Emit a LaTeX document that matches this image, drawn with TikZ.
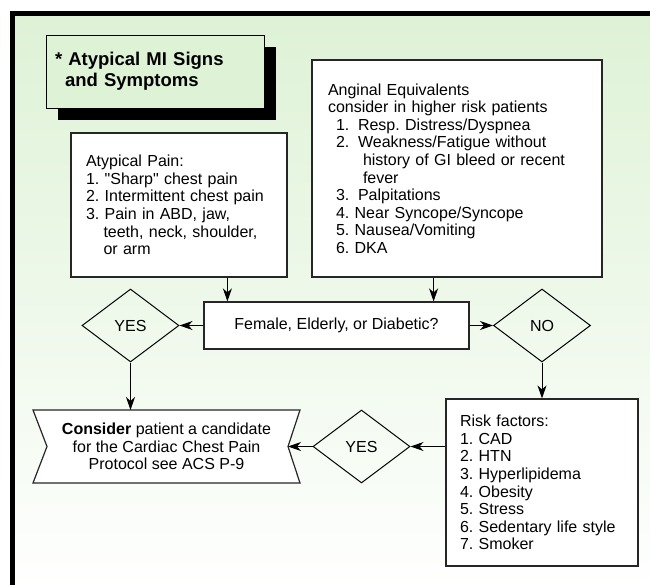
\documentclass[tikz,border=0pt]{standalone}
\usepackage{fontspec}
\setmainfont{Liberation Sans}[Ligatures=TeXOff]
\usepackage{tikz}
\usetikzlibrary{arrows.meta,shapes.geometric,shadows}
\usepackage{xcolor}
\definecolor{bggreen}{RGB}{222,242,214}
\frenchspacing

\begin{document}
\begin{tikzpicture}[x=1pt,y=-1pt,
  box/.style={draw=black!85,line width=1.2pt,fill=white,align=left,
    font=\fontsize{16}{17.6}\selectfont,inner ysep=2pt},
  choice/.style={diamond,draw,line width=1pt,aspect=1.33,
    inner sep=0pt,minimum width=97pt,minimum height=73pt,
    font=\fontsize{16}{17.6}\selectfont},
  arr/.style={-{Stealth[length=13pt,width=9pt,inset=4pt]},line width=1pt}]

\useasboundingbox (0,0) rectangle (650,584);
\clip (0,0) rectangle (650,584);
\fill[top color=bggreen,bottom color=white] (12.5,13.5) rectangle (660,600);
\draw[line width=5pt] (12.5,13.5) rectangle (660,600);

\node[draw,line width=1pt,fill=bggreen,align=left,text width=200pt,inner xsep=9pt,
  minimum width=218pt,minimum height=73pt,font=\fontsize{18.5}{21}\bfseries,
  drop shadow={shadow xshift=12pt,shadow yshift=-12pt,fill=black,opacity=1}]
  (title) at (155,71.5) {* Atypical MI Signs\\\hspace*{10pt}and Symptoms};

\node[box,text width=186pt,inner xsep=15pt,minimum height=144pt] (atyp) at (179,205)
  {Atypical Pain:\\
   1. "Sharp" chest pain\\
   2. Intermittent chest pain\\
   3. Pain in ABD, jaw,\\
   \hspace*{17.5pt}teeth, neck, shoulder,\\
   \hspace*{17.5pt}or arm};

\node[box,text width=258pt,inner xsep=16pt,minimum height=217pt] (ang) at (457,168.5)
  {Anginal Equivalents\\
   consider in higher risk patients\\
   \hspace*{8pt}1.\hspace{8.7pt}Resp. Distress/Dyspnea\\
   \hspace*{8pt}2.\hspace{8.7pt}Weakness/Fatigue without\\
   \hspace*{35pt}history of GI bleed or recent\\
   \hspace*{35pt}fever\\
   \hspace*{8pt}3.\hspace{8.7pt}Palpitations\\
   \hspace*{8pt}4. Near Syncope/Syncope\\
   \hspace*{8pt}5. Nausea/Vomiting\\
   \hspace*{8pt}6. DKA};

\node[box,align=center,minimum width=265pt,minimum height=47pt] (female) at (336.5,325.5)
  {Female, Elderly, or Diabetic?};

\node[choice] (yesl) at (130.5,325.5) {YES};
\node[choice] (no) at (542,325.5) {NO};
\node[choice] (yesr) at (361.5,446.5) {YES};

\node[box,text width=164pt,inner xsep=14pt,minimum height=167pt] (risk) at (542,482.5)
  {Risk factors:\\
   1. CAD\\
   2. HTN\\
   3. Hyperlipidema\\
   4. Obesity\\
   5. Stress\\
   6. Sedentary life style\\
   7. Smoker};

\coordinate (consider) at (166.5,446.5);
\path (consider) +(-133.5,-36.5) coordinate (cnw) +(133.5,-36.5) coordinate (cne)
  +(133.5,36.5) coordinate (cse) +(-133.5,36.5) coordinate (csw)
  +(-119.5,0) coordinate (cl) +(121.5,0) coordinate (cr);
\draw[line width=1.2pt,draw=black!85,fill=white] (cnw) -- (cne) -- (cr) -- (cse)
  -- (csw) -- (cl) -- cycle;
\node[align=center,font=\fontsize{16}{17.6}\selectfont] (protocol) at (consider)
  {\textbf{Consider} patient a candidate\\for the Cardiac Chest Pain\\Protocol see ACS P-9};

\coordinate (f1) at ([xshift=24pt]female.north west);
\coordinate (f2) at ([xshift=-36pt]female.north east);
\draw[arr] (atyp.south -| f1) -- (f1);
\draw[arr] (ang.south -| f2) -- (f2);
\draw[arr] (female.west) -- (yesl.east);
\draw[arr] (female.east) -- (no.west);
\draw[arr] (yesl.south) -- (yesl.south |- cnw);
\draw[arr] (no.south) -- (risk.north);
\draw[arr] (yesr.east -| risk.west) -- (yesr.east);
\draw[arr] (yesr.west) -- (cr);

\end{tikzpicture}
\end{document}
